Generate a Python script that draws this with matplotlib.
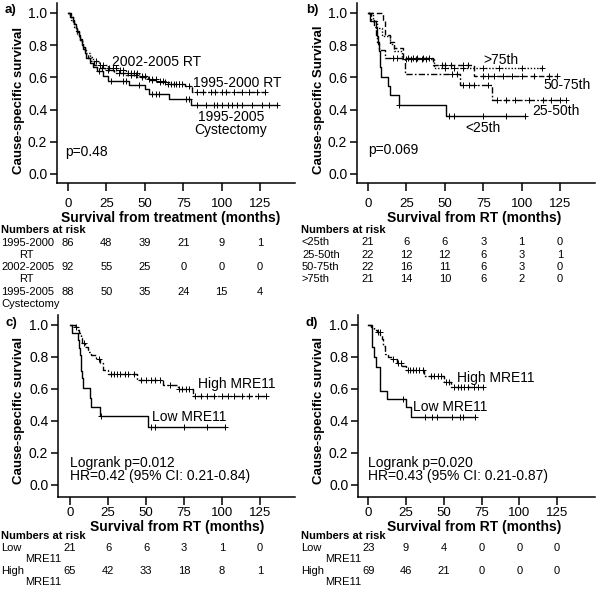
import numpy as np
import matplotlib
matplotlib.use('Agg')
import matplotlib.pyplot as plt
from matplotlib.transforms import blended_transform_factory

plt.rcParams['font.family'] = ['Liberation Sans', 'DejaVu Sans']

# ---------------- data ----------------
months = [0, 25, 50, 75, 100, 125]
surv_ticks = [0.0, 0.2, 0.4, 0.6, 0.8, 1.0]

# panel a
cyst_t = [0, 1.5, 3, 4, 5, 6, 7, 8, 9, 10, 11, 12, 14, 16, 19, 23, 26, 40, 50, 53, 66, 80]
cyst_s = [1.0, 0.977, 0.955, 0.932, 0.909, 0.886, 0.864, 0.83, 0.80, 0.775, 0.75, 0.72,
          0.69, 0.665, 0.64, 0.61, 0.58, 0.555, 0.525, 0.495, 0.465, 0.43]
cyst_c = [20, 28, 36, 38, 46, 55, 57, 59, 77, 79, 84, 90, 95, 97, 100, 104, 107, 110,
          113, 120, 126, 131, 136]

rt9500_t = [0, 2, 3, 4, 5, 6, 7, 8, 9, 10, 11, 12, 13, 15, 17, 19, 24, 30, 38, 45, 52,
            58, 66, 76, 81]
rt9500_s = [1.0, 0.977, 0.953, 0.93, 0.907, 0.884, 0.86, 0.837, 0.814, 0.79, 0.767,
            0.744, 0.72, 0.70, 0.68, 0.66, 0.645, 0.63, 0.615, 0.60, 0.585, 0.57, 0.56,
            0.545, 0.51]
rt9500_c = [22, 26, 33, 36, 41, 44, 48, 55, 60, 63, 69, 72, 74, 79, 84, 88, 93, 96, 100,
            103, 108, 113, 118, 123, 128]

rt0205_t = [0, 1, 2, 3, 4, 5, 6, 7, 8, 9, 10, 11, 12, 14, 16, 20, 26, 32, 38, 46, 52,
            58, 64]
rt0205_s = [1.0, 0.978, 0.957, 0.935, 0.913, 0.89, 0.87, 0.85, 0.83, 0.81, 0.79, 0.77,
            0.75, 0.725, 0.70, 0.68, 0.66, 0.645, 0.63, 0.61, 0.59, 0.575, 0.56]
rt0205_c = [18, 21, 23, 27, 29, 31, 34, 36, 39, 41, 43, 45, 48, 50, 53, 55, 57, 60, 62,
            65, 67, 70, 72]

risk_a_labels = [['1995-2000', 'RT'], ['2002-2005', 'RT'], ['1995-2005', 'Cystectomy']]
risk_a_9500 = [86, 48, 39, 21, 9, 1]
risk_a_0205 = [92, 55, 25, 0, 0, 0]
risk_a_cyst = [88, 50, 35, 24, 15, 4]

# panel b
q1_t = [0, 1, 5, 6, 6.5, 7, 7.5, 8, 8.6, 13, 14, 20, 51]
q1_s = [1.0, 0.952, 0.905, 0.857, 0.81, 0.762, 0.714, 0.667, 0.605, 0.545, 0.49, 0.43,
        0.36]
q1_c = [20.5, 53, 56, 75, 90, 102]

q2_t = [0, 2, 4, 5, 6, 7, 11, 24, 60, 81]
q2_s = [1.0, 0.955, 0.91, 0.864, 0.818, 0.773, 0.72, 0.62, 0.55, 0.46]
q2_c = [16, 19, 55, 58, 62, 66, 69, 78, 84, 90, 96, 105, 114, 119, 125, 129]

q3_t = [0, 10, 11, 14, 17, 23, 42, 69]
q3_s = [1.0, 0.955, 0.864, 0.82, 0.78, 0.72, 0.68, 0.61]
q3_c = [26, 29, 32, 36, 40, 48, 50, 54, 62, 65, 75, 78, 82, 88, 94, 100, 108, 118, 123]

q4_t = [0, 3, 6, 9, 14, 17, 22, 43]
q4_s = [1.0, 0.952, 0.905, 0.857, 0.81, 0.762, 0.714, 0.66]
q4_c = [25, 28, 31, 35, 38, 50, 56, 62, 75, 85, 100, 113]

risk_b_labels = ['<25th', '25-50th', '50-75th', '>75th']
risk_b_q1 = [21, 6, 6, 3, 1, 0]
risk_b_q2 = [22, 12, 12, 6, 3, 1]
risk_b_q3 = [22, 16, 11, 6, 3, 0]
risk_b_q4 = [21, 14, 10, 6, 2, 0]

# panel c (low MRE11 is the <25th group)
lowc_t, lowc_s, lowc_c = q1_t, q1_s, q1_c
highc_t = [0, 3, 5, 6, 7, 8, 10, 12, 14, 17, 20, 22, 25, 44, 61, 71, 81]
highc_s = [1.0, 0.985, 0.97, 0.95, 0.92, 0.89, 0.86, 0.83, 0.81, 0.79, 0.76, 0.72,
           0.695, 0.657, 0.627, 0.60, 0.555]
highc_c = [4, 9, 19, 27, 29, 31, 33, 36, 38, 42, 47, 50, 53, 56, 59, 66, 72, 74, 76, 78,
           82, 86, 90, 95, 100, 104, 108, 113, 118, 124, 129]

risk_c_low = [21, 6, 6, 3, 1, 0]
risk_c_high = [65, 42, 33, 18, 8, 1]

# panel d
lowd_t = [0, 2.5, 4, 5, 8, 12.5, 25, 28]
lowd_s = [1.0, 0.864, 0.80, 0.74, 0.59, 0.535, 0.49, 0.427]
lowd_c = [23, 37.5, 42, 45.5, 55.7, 61, 63, 70.6]

highd_t = [0, 2, 4, 6, 8, 9, 10, 11, 13, 16, 19, 22, 25, 37, 50, 55]
highd_s = [1.0, 0.985, 0.97, 0.955, 0.94, 0.91, 0.87, 0.82, 0.80, 0.785, 0.765, 0.745,
           0.72, 0.68, 0.646, 0.61]
highd_c = [6.6, 7.7, 16.3, 19.6, 21.8, 26.2, 27.3, 29.5, 31.7, 33.9, 36.1, 41.6, 43.8,
           46.0, 48.2, 51.5, 53.7, 57, 59.2, 61.4, 63.6, 65.8, 70.2, 72.4, 75.7]

risk_d_low = [23, 9, 4, 0, 0, 0]
risk_d_high = [69, 46, 21, 0, 0, 0]

risk_mre_labels = ['Low', 'High']

# ---------------- drawing ----------------
DOT = (0, (1, 1.3))
DASH = (0, (4, 2))
DASHDOT = (0, (4.5, 1.6, 1.2, 1.6))

fig = plt.figure(figsize=(6, 6), dpi=100)


def px(x, y):
    return x / 600, 1 - y / 600


def make_ax(left, top, right, bottom, x0, xscale, y1, y0):
    ax = fig.add_axes([left / 600, 1 - bottom / 600, (right - left) / 600,
                       (bottom - top) / 600])
    ax.set_xlim((left - x0) / xscale, (right - x0) / xscale)
    yscale = (y0 - y1)
    ax.set_ylim(-(bottom - y0) / yscale, 1 + (y1 - top) / yscale)
    for sp in ['top', 'right']:
        ax.spines[sp].set_visible(False)
    for sp in ['left', 'bottom']:
        ax.spines[sp].set_linewidth(1.1)
    ax.set_xticks(months)
    ax.set_yticks(surv_ticks)
    ax.set_yticklabels(['%.1f' % v for v in surv_ticks])
    ax.tick_params(axis='y', direction='out', length=5, width=1.1, pad=2, labelsize=10)
    return ax


def km(ax, t, s, cens, ls):
    t = np.asarray(t, float)
    s = np.asarray(s, float)
    c = np.asarray(cens, float)
    tend = max(c.max(), t[-1])
    ax.step(np.append(t, tend), np.append(s, s[-1]), where='post', color='black',
            lw=1.0, linestyle=ls)
    idx = np.searchsorted(t, c, side='right') - 1
    ax.plot(c, s[idx], linestyle='none', marker='+', ms=5, mew=0.7, color='black')


def risk_row(ax, counts, ypix):
    tr = blended_transform_factory(ax.transData, fig.transFigure)
    for m, n in zip(months, counts):
        ax.text(m, 1 - ypix / 600, str(n), transform=tr, ha='center', va='center',
                fontsize=8)


def label_text(xp, yp, s, bold=False, size=8):
    fig.text(*px(xp, yp), s, ha='left', va='center', fontsize=size,
             fontweight='bold' if bold else 'normal')


# panel a
ax_a = make_ax(57, 3, 295, 183, 68, 1.536, 13, 174)
ax_a.tick_params(axis='x', direction='out', length=6, width=1.1, pad=5, labelsize=9.5)
km(ax_a, cyst_t, cyst_s, cyst_c, '-')
km(ax_a, rt9500_t, rt9500_s, rt9500_c, DASHDOT)
km(ax_a, rt0205_t, rt0205_s, rt0205_c, DOT)
ax_a.text(28.6, 0.696, '2002-2005 RT', fontsize=10, va='center')
ax_a.text(81.5, 0.565, '1995-2000 RT', fontsize=10, va='center')
ax_a.text(106, 0.315, '1995-2005\nCystectomy', fontsize=10, va='center', ha='center',
          linespacing=0.95)
ax_a.text(-2, 0.137, 'p=0.48', fontsize=10, va='center')

# panel b
ax_b = make_ax(357, 3, 595, 183, 368, 1.536, 13, 174)
ax_b.tick_params(axis='x', direction='out', length=6, width=1.1, pad=5, labelsize=9.5)
km(ax_b, q1_t, q1_s, q1_c, '-')
km(ax_b, q2_t, q2_s, q2_c, DASHDOT)
km(ax_b, q3_t, q3_s, q3_c, DASH)
km(ax_b, q4_t, q4_s, q4_c, DOT)
ax_b.text(74.9, 0.708, '>75th', fontsize=10, va='center')
ax_b.text(113.9, 0.553, '50-75th', fontsize=10, va='center')
ax_b.text(106.8, 0.391, '25-50th', fontsize=10, va='center')
ax_b.text(63.2, 0.286, '<25th', fontsize=10, va='center')
ax_b.text(0, 0.149, 'p=0.069', fontsize=10, va='center')

# panel c
ax_c = make_ax(58, 315, 295, 497, 70, 1.52, 325, 485)
ax_c.tick_params(axis='x', direction='out', length=6, width=1.1, pad=1, labelsize=9.5)
km(ax_c, lowc_t, lowc_s, lowc_c, '-')
km(ax_c, highc_t, highc_s, highc_c, DASHDOT)
ax_c.text(84.2, 0.631, 'High MRE11', fontsize=10, va='center')
ax_c.text(53.9, 0.425, 'Low MRE11', fontsize=10, va='center')
ax_c.text(0, 0.1375, 'Logrank p=0.012', fontsize=10, va='center')
ax_c.text(0, 0.056, 'HR=0.42 (95% CI: 0.21-0.84)', fontsize=10, va='center')

# panel d
ax_d = make_ax(358, 315, 595, 497, 368.3, 1.51, 325, 485)
ax_d.tick_params(axis='x', direction='out', length=6, width=1.1, pad=1, labelsize=9.5)
km(ax_d, lowd_t, lowd_s, lowd_c, '-')
km(ax_d, highd_t, highd_s, highd_c, DASHDOT)
ax_d.text(58.7, 0.669, 'High MRE11', fontsize=10, va='center')
ax_d.text(29.6, 0.4875, 'Low MRE11', fontsize=10, va='center')
ax_d.text(0, 0.1375, 'Logrank p=0.020', fontsize=10, va='center')
ax_d.text(0, 0.056, 'HR=0.43 (95% CI: 0.21-0.87)', fontsize=10, va='center')

# panel letters, axis titles
for xp, yp, s in [(5, 10, 'a)'), (306, 10, 'b)'), (5, 323, 'c)'), (305, 323, 'd)')]:
    label_text(xp, yp, s, bold=True, size=9.5)
for xp, yp, s in [(19, 100, 'Cause-specific survival'), (319, 100, 'Cause-specific Survival'),
                  (19, 410, 'Cause-specific survival'), (319, 410, 'Cause-specific survival')]:
    fig.text(*px(xp, yp), s, rotation=90, ha='center', va='center', fontsize=9.5,
             fontweight='bold')
for xp, yp, s in [(171, 218, 'Survival from treatment (months)'),
                  (474, 218, 'Survival from RT (months)'),
                  (177, 527, 'Survival from RT (months)'),
                  (474, 527, 'Survival from RT (months)')]:
    fig.text(*px(xp, yp), s, ha='center', va='center', fontsize=10, fontweight='bold')

# numbers at risk
label_text(1, 230, 'Numbers at risk', bold=True)
label_text(301, 230, 'Numbers at risk', bold=True)
label_text(1, 536, 'Numbers at risk', bold=True)
label_text(301, 536, 'Numbers at risk', bold=True)

for (l1, l2), counts, yp in zip(risk_a_labels, [risk_a_9500, risk_a_0205, risk_a_cyst],
                                [243, 267, 292]):
    label_text(1, yp, l1)
    label_text(19 if l2 == 'RT' else 1, yp + 12, l2)
    risk_row(ax_a, counts, yp)

for lab, counts, yp in zip(risk_b_labels, [risk_b_q1, risk_b_q2, risk_b_q3, risk_b_q4],
                           [242, 255, 267, 279]):
    label_text(302, yp, lab)
    risk_row(ax_b, counts, yp)

for ax, x0, rows in [(ax_c, 1, [risk_c_low, risk_c_high]), (ax_d, 301, [risk_d_low, risk_d_high])]:
    for lab, counts, yp in zip(risk_mre_labels, rows, [548, 571]):
        label_text(x0, yp, lab)
        label_text(x0 + 24, yp + 11, 'MRE11')
        risk_row(ax, counts, yp)

fig.savefig('out.png', dpi=100, facecolor='white')
